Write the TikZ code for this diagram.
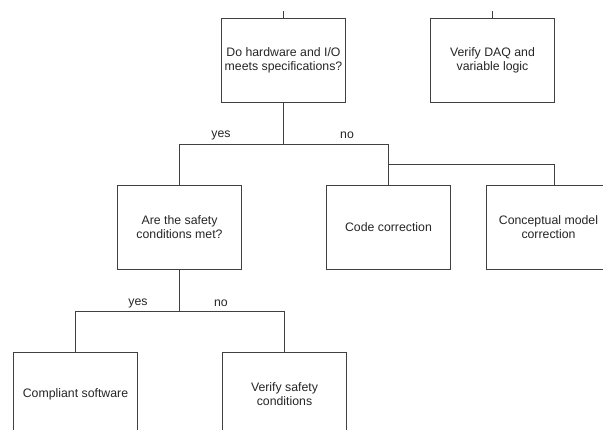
\documentclass[tikz,border=0pt]{standalone}
\usepackage{fontspec}
\setmainfont{Liberation Sans}
\usetikzlibrary{positioning}

\tikzset{
    block/.style={draw=black!75, line width=1pt, minimum width=124pt, minimum height=84pt,
        align=center, text=black!85, inner sep=2pt,
        font=\fontsize{12.3}{14}\selectfont},
    lbl/.style={text=black!85, inner sep=0pt, font=\fontsize{12.3}{14}\selectfont},
    wire/.style={draw=black!75, line width=1pt}
}

\begin{document}
\begin{tikzpicture}[x=1pt, y=-1pt]
        \clip (0,0) rectangle (603,430);
        \fill[white] (0,0) rectangle (603,430);

        % top row
        \node[block] (hwio) at (283.5,60.5) {Do hardware and I/O\\meets specifications?};
        \node[block] (daq) at (492.5,60.5) {Verify DAQ and\\variable logic};
        \coordinate (hwin) at (283.5,11);
        \coordinate (daqin) at (492.5,11);

        % middle row
        \node[block] (safety) at (179.5,227.5) {Are the safety\\conditions met?};
        \node[block] (code) at (388.5,227.5) {Code correction};
        \node[block] (concept) at (548.5,227.5) {Conceptual model\\correction};

        % bottom row
        \node[block] (compliant) at (75.5,394.5) {Compliant software};
        \node[block] (verify) at (284.5,394.5) {Verify safety\\conditions};

        \draw[wire] (hwin) -- (hwio.north);
        \draw[wire] (daqin) -- (daq.north);

        \draw[wire] (hwio.south) -- ++(0,42) -| (safety.north);
        \draw[wire] (hwio.south) -- ++(0,42) -| (code.north);
        \draw[wire] (code.north) ++(0,-20) -| ([xshift=6pt]concept.north);
        \node[lbl] (yes1) at (221,135) {yes};
        \node[lbl] (no1) at (347,135) {no};

        \draw[wire] (safety.south) -- ++(0,42) -| (compliant.north);
        \draw[wire] (safety.south) -- ++(0,42) -| (verify.north);
        \node[lbl] (yes2) at (138,303) {yes};
        \node[lbl] (no2) at (221,303) {no};
    \end{tikzpicture}
\end{document}
